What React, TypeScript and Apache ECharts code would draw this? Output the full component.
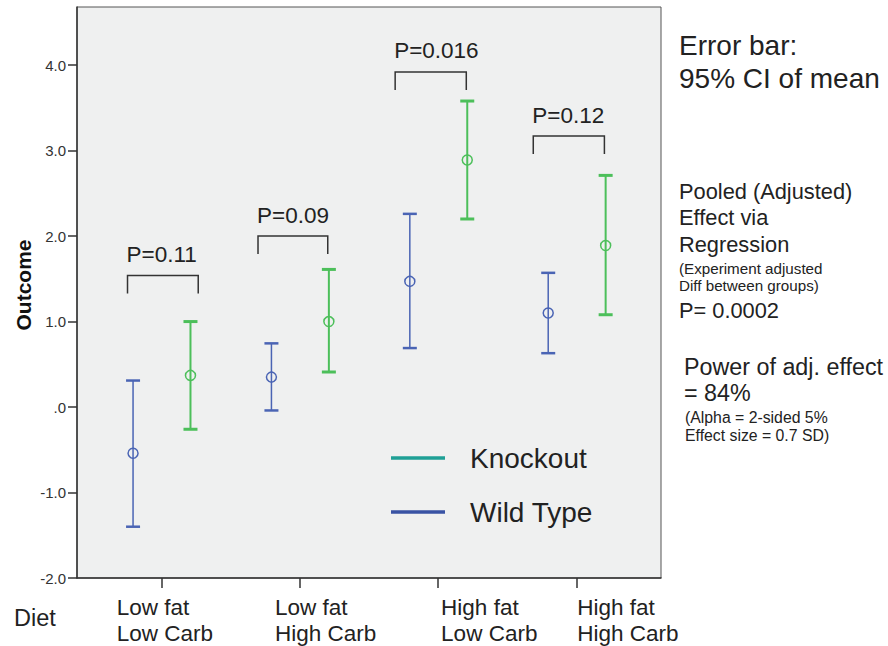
import React, { useEffect, useRef } from "react";
import * as echarts from "echarts";

const categories = [
  ["Low fat", "Low Carb"],
  ["Low fat", "High Carb"],
  ["High fat", "Low Carb"],
  ["High fat", "High Carb"],
];
const wildMean = [-0.54, 0.35, 1.47, 1.1];
const wildLow = [-1.4, -0.04, 0.69, 0.63];
const wildHigh = [0.31, 0.745, 2.26, 1.57];
const koMean = [0.37, 1.0, 2.89, 1.89];
const koLow = [-0.26, 0.41, 2.2, 1.08];
const koHigh = [1.0, 1.61, 3.58, 2.71];
const pLabels = ["P=0.11", "P=0.09", "P=0.016", "P=0.12"];
const bracketLevels = [1.54, 2.0, 3.92, 3.17];
const bracketFrom = [-0.245, -0.302, -0.311, -0.313];
const bracketTo = [0.266, 0.202, 0.203, 0.201];
const yTicks = [-2, -1, 0, 1, 2, 3, 4];
const xTicks = [0, 1, 2, 3];
const xLabelAnchors = [-0.323, 0.821, 2.021, 3.005];
const seriesNames = ["Knockout", "Wild Type"];

const FONT = "'Liberation Sans', Arial, sans-serif";
const BLUE = "#4a64b4";
const GREEN = "#4cbf5a";
const TEAL = "#1fa096";
const NAVY = "#3953a4";

function makeErrorBar(offset: number, color: string, lw: number, capW: number) {
  return (params: any, api: any) => {
    const x = api.value(0) + offset;
    const lo = api.coord([x, api.value(1)]);
    const mid = api.coord([x, api.value(2)]);
    const hi = api.coord([x, api.value(3)]);
    const half = 7;
    return {
      type: "group",
      children: [
        { type: "line", shape: { x1: lo[0], y1: lo[1], x2: hi[0], y2: hi[1] }, style: { stroke: color, lineWidth: lw } },
        { type: "line", shape: { x1: hi[0] - half, y1: hi[1], x2: hi[0] + half, y2: hi[1] }, style: { stroke: color, lineWidth: capW } },
        { type: "line", shape: { x1: lo[0] - half, y1: lo[1], x2: lo[0] + half, y2: lo[1] }, style: { stroke: color, lineWidth: capW } },
        { type: "circle", shape: { cx: mid[0], cy: mid[1], r: 5 }, style: { fill: "none", stroke: color, lineWidth: 1.5 } },
      ],
    };
  };
}

export default function App() {
  const ref = useRef<HTMLDivElement>(null);
  useEffect(() => {
    if (!ref.current) return;
    const chart = echarts.init(ref.current, null, { renderer: "svg" });
    const rightText = (text: string, x: number, y: number, size: number) => ({
      type: "text",
      x,
      y,
      style: { text, fontSize: size, fontFamily: FONT, fill: "#222", verticalAlign: "middle", align: "left" },
    });
    chart.setOption({
      animation: false,
      backgroundColor: "#ffffff",
      grid: {
        left: 77,
        top: 7,
        width: 584,
        height: 571,
        show: true,
        backgroundColor: "#eff0f0",
        borderColor: "#555",
        borderWidth: 1,
      },
      xAxis: {
        type: "value",
        min: -0.61,
        max: 3.61,
        splitLine: { show: false },
        axisLine: { show: true, onZero: false, lineStyle: { color: "#333", width: 1.5 } },
        axisTick: { show: true, customValues: xTicks, length: 10, lineStyle: { color: "#333", width: 1.5 } },
        axisLabel: {
          customValues: xLabelAnchors,
          formatter: (v: number) => categories[Math.max(0, Math.round(v))].join("\n"),
          align: "left",
          fontSize: 22.5,
          lineHeight: 26,
          margin: 16,
          color: "#222",
          fontFamily: FONT,
        },
      },
      yAxis: {
        type: "value",
        min: -2,
        max: 4.68,
        interval: 1,
        splitLine: { show: false },
        axisLine: { show: true, onZero: false, lineStyle: { color: "#333", width: 1.5 } },
        axisTick: { show: true, customValues: yTicks, length: 9, lineStyle: { color: "#333", width: 1.5 } },
        axisLabel: {
          customValues: yTicks,
          formatter: (v: number) => (v === 0 ? ".0" : v.toFixed(1)),
          fontSize: 15,
          margin: 11,
          color: "#333",
          fontFamily: FONT,
        },
      },
      series: [
        {
          name: seriesNames[1],
          type: "custom",
          data: categories.map((_, i) => [i, wildLow[i], wildMean[i], wildHigh[i]]),
          renderItem: makeErrorBar(-0.205, BLUE, 1.5, 2.5),
          z: 3,
        },
        {
          name: seriesNames[0],
          type: "custom",
          data: categories.map((_, i) => [i, koLow[i], koMean[i], koHigh[i]]),
          renderItem: makeErrorBar(0.21, GREEN, 2, 3),
          z: 3,
        },
        {
          name: "brackets",
          type: "custom",
          data: categories.map((_, i) => [i, bracketLevels[i]]),
          renderItem: (params: any, api: any) => {
            const i = api.value(0);
            const k = params.dataIndex;
            const l = api.coord([i + bracketFrom[k], api.value(1)]);
            const r = api.coord([i + bracketTo[k], api.value(1)]);
            const drop = 18;
            return {
              type: "group",
              children: [
                {
                  type: "polyline",
                  shape: { points: [[l[0], l[1] + drop], [l[0], l[1]], [r[0], r[1]], [r[0], r[1] + drop]] },
                  style: { stroke: "#333", lineWidth: 1.5, fill: "none" },
                },
                {
                  type: "text",
                  x: l[0] - 1,
                  y: l[1] - 21,
                  style: { text: pLabels[k], fontSize: 22.5, fontFamily: FONT, fill: "#222", verticalAlign: "middle", align: "left" },
                },
              ],
            };
          },
          z: 4,
        },
      ],
      graphic: [
        {
          type: "text",
          x: 23,
          y: 285,
          rotation: Math.PI / 2,
          style: { text: "Outcome", fontSize: 21, fontWeight: "bold", fontFamily: FONT, fill: "#111", align: "center", verticalAlign: "middle" },
        },
        rightText("Diet", 14, 618, 23.5),
        { type: "line", shape: { x1: 391, y1: 458, x2: 445, y2: 458 }, style: { stroke: TEAL, lineWidth: 3.5 } },
        rightText(seriesNames[0], 470, 458, 28),
        { type: "line", shape: { x1: 391, y1: 512, x2: 445, y2: 512 }, style: { stroke: NAVY, lineWidth: 3.5 } },
        rightText(seriesNames[1], 470, 512, 28),
        rightText("Error bar:", 679, 45, 28),
        rightText("95% CI of mean", 679, 78, 28),
        rightText("Pooled (Adjusted)", 679, 191, 21.8),
        rightText("Effect via", 679, 217, 21.8),
        rightText("Regression", 679, 244, 21.8),
        rightText("(Experiment adjusted", 679, 268, 15.2),
        rightText("Diff between groups)", 679, 285, 15.2),
        rightText("P= 0.0002", 679, 310, 21.8),
        rightText("Power of adj. effect", 684, 367, 23.3),
        rightText("= 84%", 684, 393, 23.3),
        rightText("(Alpha = 2-sided 5%", 685, 417, 15.8),
        rightText("Effect size = 0.7 SD)", 685, 435, 15.8),
      ],
    });
    return () => chart.dispose();
  }, []);
  return <div ref={ref} style={{ position: "absolute", left: 0, top: 0, width: 888, height: 646 }} />;
}
